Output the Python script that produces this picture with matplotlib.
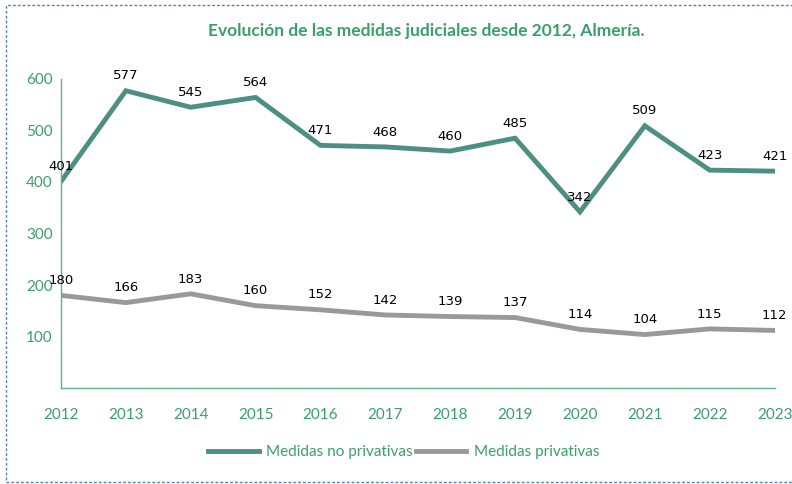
import matplotlib.pyplot as plt
from matplotlib.patches import Rectangle

years = ['2012', '2013', '2014', '2015', '2016', '2017', '2018', '2019', '2020', '2021', '2022', '2023']
no_privativas = [401, 577, 545, 564, 471, 468, 460, 485, 342, 509, 423, 421]
privativas = [180, 166, 183, 160, 152, 142, 139, 137, 114, 104, 115, 112]

green_txt = '#3a9f6b'
teal = '#4d8f82'
grey = '#999999'

plt.rcParams['font.family'] = ['Lato', 'DejaVu Sans']

fig = plt.figure(figsize=(7.92, 4.84), dpi=100)
ax = fig.add_axes([0.077, 0.198, 0.901, 0.639])

x = list(range(len(years)))
ax.plot(x, no_privativas, color=teal, lw=3.5, label='Medidas no privativas', solid_joinstyle='miter')
ax.plot(x, privativas, color=grey, lw=3.5, label='Medidas privativas', solid_joinstyle='miter')

# etiquetas de datos
for serie in (no_privativas, privativas):
    for xi, v in zip(x, serie):
        ax.annotate(str(v), (xi, v), xytext=(0, 6), textcoords='offset points',
                    ha='center', va='bottom', fontsize=9.5, color='black',
                    family='DejaVu Sans')

ax.set_xlim(0, len(years) - 1)
ax.set_ylim(0, 600)
ax.set_yticks([100, 200, 300, 400, 500, 600])
ax.set_xticks(x)
ax.set_xticklabels(years)
ax.tick_params(axis='both', length=0, colors=green_txt, labelsize=11)
ax.tick_params(axis='x', pad=14)
ax.tick_params(axis='y', pad=6)
for s in ['top', 'right']:
    ax.spines[s].set_visible(False)
for s in ['left', 'bottom']:
    ax.spines[s].set_color('#5fb386')
    ax.spines[s].set_linewidth(1)

fig.text(0.538, 0.935, 'Evolución de las medidas judiciales desde 2012, Almería.',
         ha='center', va='center', fontsize=12.5, fontweight='bold', color=green_txt)

leg = fig.legend(loc='center', bbox_to_anchor=(0.51, 0.066), ncol=2, frameon=False,
                 fontsize=11, handlelength=3.3, columnspacing=0.2, handletextpad=0.5)
for t in leg.get_texts():
    t.set_color(green_txt)

fig.patches.append(Rectangle((0.007, 0.004), 1.2, 0.986, transform=fig.transFigure,
                             fill=False, ls=(0, (2, 1.5)), lw=1, edgecolor='#5a7fb0'))

fig.savefig('out.png', dpi=100)
